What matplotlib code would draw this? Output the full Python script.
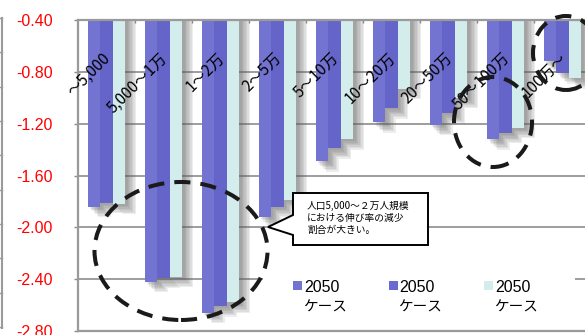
"""
Growth-rate change by population size class (2050 cases), bar chart recreation.
"""

import numpy as np
import matplotlib.pyplot as plt
import matplotlib.patheffects as pe
from matplotlib.patches import Ellipse, Rectangle, Polygon
from matplotlib.lines import Line2D
from matplotlib.transforms import blended_transform_factory

plt.rcParams['font.family'] = ['Liberation Sans', 'Noto Sans CJK JP', 'DejaVu Sans']

# Data
categories = ["～5,000", "5,000～1万", "1～2万", "2～5万", "5～10万",
              "10～20万", "20～50万", "50～100万", "100万～"]
case_a = [-1.84, -2.42, -2.66, -1.92, -1.49, -1.19, -1.21, -1.32, -0.72]
case_b = [-1.81, -2.39, -2.61, -1.84, -1.39, -1.08, -1.12, -1.27, -0.81]
case_c = [-1.82, -2.38, -2.58, -1.79, -1.32, -0.93, -1.00, -1.23, -0.85]
series_labels = ["2050\nケース", "2050\nケース", "2050\nケース"]
y_ticks = [-0.40, -0.80, -1.20, -1.60, -2.00, -2.40, -2.80]
callout_text = "人口5,000～２万人規模\nにおける伸び率の減少\n割合が大きい。"

colors = ["#7373d1", "#6464c9", "#d3ecec"]
legend_colors = ["#7373d1", "#6a6ad2", "#d3ecec"]

W, H = 585, 335


def fx(px):
    return px / W


def fy(py):
    # pixel measured from the top
    return 1 - py / H


fig = plt.figure(figsize=(W / 100, H / 100), dpi=100)
ax = fig.add_axes([fx(78), 4 / H, 513 / W, 311 / H])

x = np.arange(len(categories))
bw = 0.222
offsets = [-bw, 0, bw]

# Soft drop shadow behind each bar
shadow = [pe.SimplePatchShadow(offset=(k, -k), shadow_rgbFace="#606060", alpha=0.11)
          for k in (1.5, 2.5, 3.5, 4.5, 5.5, 6.5, 7.5)] + [pe.Normal()]

for vals, off, col in zip([case_a, case_b, case_c], offsets, colors):
    ax.bar(x + off, vals, bw, color=col, path_effects=shadow, zorder=2)

ax.set_xlim(-0.5, len(categories) - 0.5)
ax.set_ylim(-2.8, -0.4)

# y axis: red labels far from the axis
ax.set_yticks(y_ticks)
ax.set_yticklabels([f"{v:.2f}" for v in y_ticks])
ax.tick_params(axis="y", direction="out", length=3, width=1, color="#8c8c8c",
               pad=15, labelsize=11.5, labelcolor="red")
ax.yaxis.grid(True, color="#8c8c8c", lw=1.2)
ax.set_axisbelow(True)

# category axis sits on top, ticks between groups
ax.xaxis.tick_top()
ax.set_xticks(np.arange(0.5, len(categories) - 0.5, 1))
ax.set_xticklabels([])
ax.tick_params(axis="x", direction="in", length=2.5, width=1, color="#8c8c8c")

for side in ["top", "bottom", "left"]:
    ax.spines[side].set_color("#9a9a9a")
    ax.spines[side].set_linewidth(1.6)
ax.spines["right"].set_visible(False)

# rotated category labels inside the plot
trans = blended_transform_factory(ax.transData, ax.transAxes)
for i, cat in enumerate(categories):
    ax.text(i - 0.08, 0.905, cat, transform=trans, rotation=45,
            rotation_mode="anchor", ha="right", va="top", fontsize=11,
            family=["Noto Sans CJK JP"], zorder=5)

# legend (white box hides the gridline behind it)
ax.add_patch(Rectangle((fx(263), fy(328)), (575 - 263) / W, (328 - 250) / H,
                       transform=fig.transFigure, facecolor="white",
                       edgecolor="none", zorder=1.5))
for i, (lab, col) in enumerate(zip(series_labels, legend_colors)):
    x0 = 293 + i * 95.5
    fig.add_artist(Rectangle((fx(x0), fy(290)), 9 / W, 9 / H,
                             transform=fig.transFigure, facecolor=col,
                             edgecolor="none"))
    top, bottom = lab.split("\n")
    fig.text(fx(x0 + 11), fy(292), top, fontsize=11.5, va="baseline")
    fig.text(fx(x0 + 10), fy(312), bottom, fontsize=10.5, va="baseline",
             family=["Noto Sans CJK JP"])

# callout box
pts = [(293, 193), (428, 193), (428, 245), (293, 245), (293, 235), (268, 227), (293, 215)]
fig.add_artist(Polygon([(fx(a), fy(b)) for a, b in pts], closed=True,
                       transform=fig.transFigure, facecolor="white",
                       edgecolor="black", lw=1.4, zorder=6))
fig.text(fx(307), fy(201), callout_text, fontsize=7, va="top", linespacing=1.25,
         family=["Noto Sans CJK JP"], zorder=7)

# dashed highlight ellipses
for cx, cy, w, h in [(181, 251, 173, 138), (493, 122, 78, 90), (566, 53, 66, 74)]:
    fig.add_artist(Ellipse((fx(cx), fy(cy)), w / W, h / H, transform=fig.transFigure,
                           fill=False, edgecolor="#1a1a1a", lw=2.9,
                           linestyle=(0, (4, 2.5)), zorder=8))

# edge of the neighbouring chart on the far left
fig.add_artist(Line2D([fx(2), fx(2)], [fy(18), fy(328)], color="#9a9a9a", lw=1.5))
for py in np.linspace(18, 327, 10):
    fig.add_artist(Line2D([0, fx(2)], [fy(py), fy(py)], color="#9a9a9a", lw=1))

fig.savefig("out.png", dpi=100)
